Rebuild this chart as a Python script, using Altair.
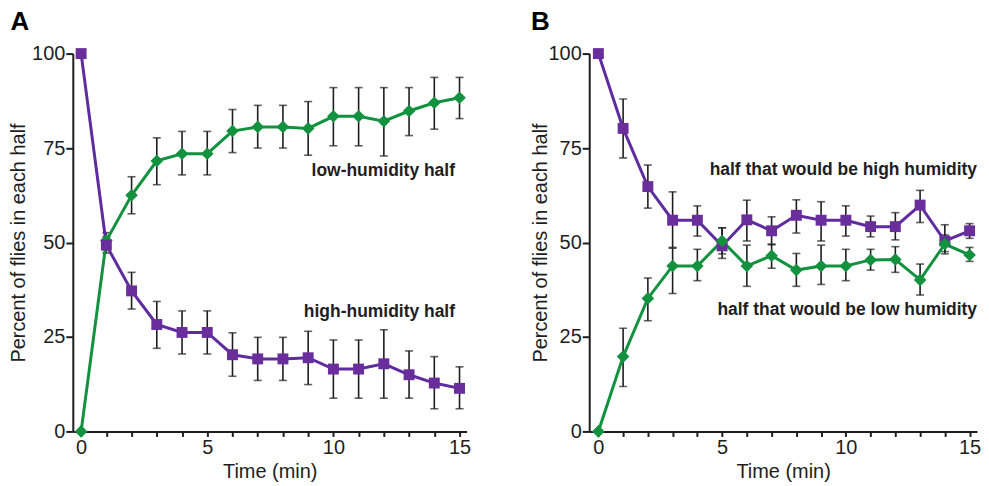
import altair as alt
import pandas as pd

FONT = "Liberation Sans, Arial, sans-serif"
PURPLE_LINE = "#5E2C9F"
PURPLE = "#6A2E9C"
GREEN = "#12913F"
INK = "#1e1e1e"

time = list(range(16))

# Panel A
a_low = [0, 50.5, 62.5, 71.6, 73.5, 73.5, 79.5, 80.6, 80.6, 80.2, 83.4, 83.4, 82.1, 84.8, 87.0, 88.3]
a_low_hi = [None, 52.6, 67.4, 77.7, 79.4, 79.4, 85.2, 86.3, 86.3, 87.3, 91.0, 91.0, 91.0, 91.0, 93.7, 93.7]
a_low_lo = [None, 48.5, 57.6, 65.3, 67.9, 67.9, 73.8, 75.0, 75.0, 73.1, 75.6, 75.6, 72.9, 78.3, 80.0, 82.8]
a_high = [100, 49.3, 37.2, 28.3, 26.2, 26.2, 20.3, 19.2, 19.2, 19.5, 16.5, 16.5, 17.9, 15.0, 12.8, 11.4]
a_high_hi = [None, 51.5, 42.1, 34.4, 31.9, 31.9, 26.1, 24.9, 24.9, 26.5, 24.2, 24.2, 26.9, 21.3, 19.8, 17.1]
a_high_lo = [None, 47.2, 32.4, 22.0, 20.5, 20.5, 14.6, 13.5, 13.5, 12.4, 8.8, 8.8, 8.8, 8.8, 6.0, 6.0]

# Panel B
b_high = [100, 80.2, 64.8, 55.9, 55.9, 49.1, 56.0, 53.1, 57.2, 55.9, 55.9, 54.2, 54.2, 59.9, 50.4, 53.1]
b_high_hi = [None, 88.0, 70.5, 63.4, 59.7, 53.9, 61.2, 56.8, 61.3, 60.8, 59.7, 57.0, 57.9, 63.8, 54.7, 55.0]
b_high_lo = [None, 72.4, 59.1, 48.7, 51.7, 45.8, 50.4, 49.4, 52.5, 50.4, 51.7, 51.5, 50.7, 55.3, 47.6, 51.1]
b_low = [0, 19.8, 35.2, 43.8, 43.8, 50.4, 43.8, 46.5, 42.7, 43.8, 43.8, 45.4, 45.5, 40.1, 49.6, 46.7]
b_low_hi = [None, 27.3, 40.6, 48.5, 48.2, 53.9, 49.3, 49.6, 47.1, 49.3, 48.2, 48.2, 48.9, 44.3, 52.0, 48.7]
b_low_lo = [None, 11.9, 29.3, 36.5, 39.9, 47.0, 38.4, 43.2, 38.4, 38.9, 39.9, 42.7, 42.1, 36.1, 47.0, 45.0]

a_labels = ["low-humidity half", "high-humidity half"]
a_label_x = [14.82, 14.82]
a_label_y = [69.0, 31.7]
b_labels = ["half that would be high humidity", "half that would be low humidity"]
b_label_x = [15.3, 15.3]
b_label_y = [69.2, 32.1]

y_ticks = [0, 25, 50, 75, 100]


def panel(letter, series, labels, lx, ly, xdomain, width, ytitle_pad, dx):
    x_axis = alt.Axis(values=time, labelExpr="datum.value % 5 === 0 ? datum.label : ''",
                      title="Time (min)", grid=False, tickSize=5, labelPadding=1,
                      titlePadding=4, labelFlush=False, labelOverlap=False)
    y_axis = alt.Axis(values=y_ticks, title="Percent of flies in each half", grid=False,
                      tickSize=7, labelPadding=1, titlePadding=ytitle_pad, labelOverlap=False)
    xs = alt.Scale(domain=xdomain, nice=False, zero=False)
    ys = alt.Scale(domain=[0, 100], nice=False)

    def X(field):
        return alt.X(field, scale=xs, axis=x_axis)

    def Y(field):
        return alt.Y(field, scale=ys, axis=y_axis)

    err_rows, cap_rows = [], []
    for name, vals, lo, hi, lcolor, color, shape, size in series:
        for t, l, h in zip(time, lo, hi):
            if l is None:
                continue
            err_rows.append({"t": t, "lo": l, "hi": h})
            cap_rows.append({"t": t, "v": l})
            cap_rows.append({"t": t, "v": h})
    err_df = pd.DataFrame(err_rows)
    cap_df = pd.DataFrame(cap_rows)

    layers = [
        alt.Chart(err_df).mark_rule(color=INK, strokeWidth=1.6).encode(
            x=X("t:Q"), y=Y("lo:Q"), y2="hi:Q"),
        alt.Chart(cap_df).mark_tick(orient="horizontal", size=8, thickness=1.6, color=INK).encode(
            x=X("t:Q"), y=Y("v:Q")),
    ]
    for name, vals, lo, hi, lcolor, color, shape, size in series:
        df = pd.DataFrame({"t": time, "v": vals})
        layers.append(alt.Chart(df).mark_line(color=lcolor, strokeWidth=3).encode(
            x=X("t:Q"), y=Y("v:Q")))
    for name, vals, lo, hi, lcolor, color, shape, size in series:
        df = pd.DataFrame({"t": time, "v": vals})
        layers.append(alt.Chart(df).mark_point(color=color, filled=True, opacity=1,
                                               shape=shape, size=size).encode(
            x=X("t:Q"), y=Y("v:Q")))
    lab_df = pd.DataFrame({"t": lx, "v": ly, "text": labels})
    layers.append(alt.Chart(lab_df).mark_text(align="right", baseline="middle", font=FONT,
                                              fontSize=17.5, fontWeight="bold", color=INK).encode(
        x=X("t:Q"), y=Y("v:Q"), text="text:N"))

    return alt.layer(*layers).properties(
        width=width, height=379,
        title=alt.TitleParams(letter, anchor="start", frame="bounds", font=FONT,
                              fontSize=26, fontWeight="bold", color="#000", offset=9, dx=dx))


panel_a = panel("A",
                [("low", a_low, a_low_lo, a_low_hi, GREEN, GREEN, "diamond", 160),
                 ("high", a_high, a_high_lo, a_high_hi, PURPLE_LINE, PURPLE, "square", 120)],
                a_labels, a_label_x, a_label_y, [-0.33, 15.28], 395, 3, 2)
panel_b = panel("B",
                [("high", b_high, b_high_lo, b_high_hi, PURPLE_LINE, PURPLE, "square", 120),
                 ("low", b_low, b_low_lo, b_low_hi, GREEN, GREEN, "diamond", 160)],
                b_labels, b_label_x, b_label_y, [-0.37, 15.3], 389, -3, 0)

chart = alt.hconcat(panel_a, panel_b, spacing=59).properties(
    padding={"left": 0, "top": 0, "right": 0, "bottom": 0}
).configure_view(stroke=None).configure_axis(
    domainColor=INK, domainWidth=2, tickColor=INK, tickWidth=2,
    labelFont=FONT, labelFontSize=20, labelColor=INK,
    titleFont=FONT, titleFontSize=20, titleFontWeight="normal", titleColor=INK,
).configure_axisX(labelOverlap=False)

chart.save("out.html", embed_options={"renderer": "svg", "actions": False})
